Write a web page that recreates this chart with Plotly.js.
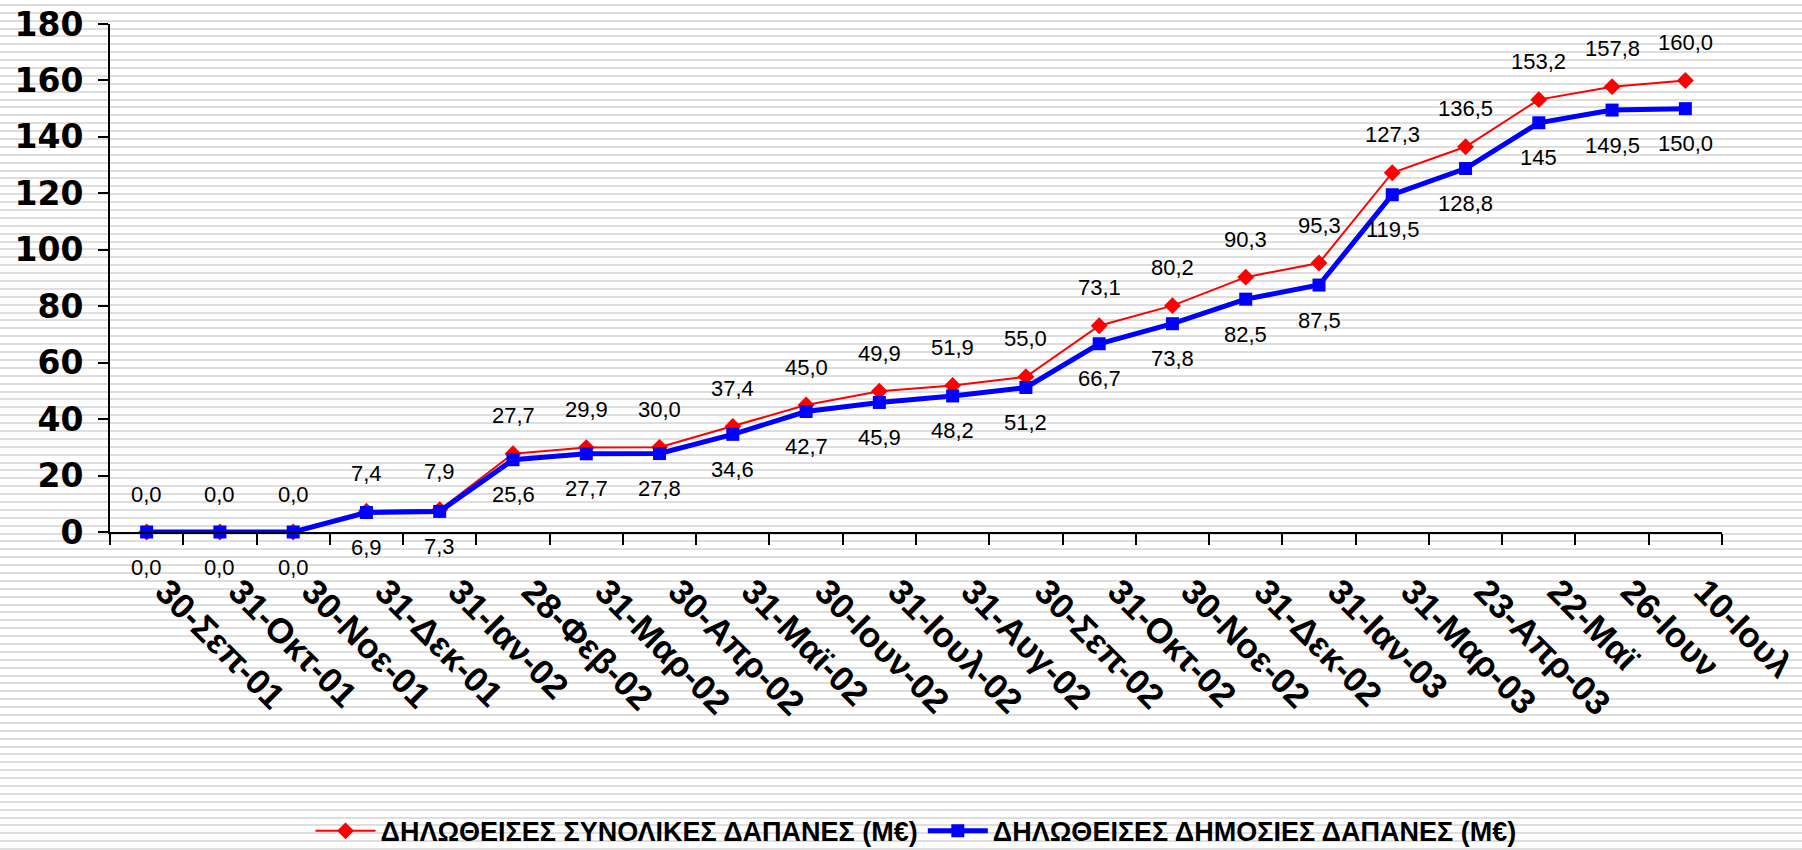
<!DOCTYPE html>
<html>
<head>
<meta charset="utf-8">
<script src="https://cdn.plot.ly/plotly-3.0.1.min.js"></script>
<style>
  html, body { margin: 0; padding: 0; }
  body {
    width: 1802px; height: 850px; overflow: hidden;
    background-color: #ffffff;
    background-image: repeating-linear-gradient(to bottom,
      #ffffff 0px, #ffffff 3.9px, #dedede 3.9px, #dedede 5.9px, #ffffff 5.9px, #ffffff 7.89px);
  }
  #chart { width: 1802px; height: 850px; }
</style>
</head>
<body>
<div id="chart"></div>
<script>
const categories = ["30-Σεπ-01","31-Οκτ-01","30-Νοε-01","31-Δεκ-01","31-Ιαν-02","28-Φεβ-02",
  "31-Μαρ-02","30-Απρ-02","31-Μαϊ-02","30-Ιουν-02","31-Ιουλ-02","31-Αυγ-02","30-Σεπ-02",
  "31-Οκτ-02","30-Νοε-02","31-Δεκ-02","31-Ιαν-03","31-Μαρ-03","23-Απρ-03","22-Μαϊ","26-Ιουν","10-Ιουλ"];

const totalSpend = [0.0,0.0,0.0,7.4,7.9,27.7,29.9,30.0,37.4,45.0,49.9,51.9,55.0,73.1,80.2,90.3,95.3,127.3,136.5,153.2,157.8,160.0];
const publicSpend = [0.0,0.0,0.0,6.9,7.3,25.6,27.7,27.8,34.6,42.7,45.9,48.2,51.2,66.7,73.8,82.5,87.5,119.5,128.8,145,149.5,150.0];

const totalLabels = ["0,0","0,0","0,0","7,4","7,9","27,7","29,9","30,0","37,4","45,0","49,9","51,9","55,0","73,1","80,2","90,3","95,3","127,3","136,5","153,2","157,8","160,0"];
const publicLabels = ["0,0","0,0","0,0","6,9","7,3","25,6","27,7","27,8","34,6","42,7","45,9","48,2","51,2","66,7","73,8","82,5","87,5","119,5","128,8","145","149,5","150,0"];

const yTicks = [0,20,40,60,80,100,120,140,160,180];

const nameTotal = "ΔΗΛΩΘΕΙΣΕΣ ΣΥΝΟΛΙΚΕΣ ΔΑΠΑΝΕΣ (Μ€)";
const namePublic = "ΔΗΛΩΘΕΙΣΕΣ ΔΗΜΟΣΙΕΣ ΔΑΠΑΝΕΣ (Μ€)";

const traces = [
  {
    type: "scatter", mode: "lines+markers", name: "<b>" + nameTotal + "</b>",
    x: categories, y: totalSpend, cliponaxis: false,
    line: {color: "#ff0000", width: 2},
    marker: {symbol: "diamond", size: 13, color: "#ff0000"}
  },
  {
    type: "scatter", mode: "lines+markers", name: "<b>" + namePublic + "</b>",
    x: categories, y: publicSpend, cliponaxis: false,
    line: {color: "#0000ff", width: 5},
    marker: {symbol: "square", size: 13, color: "#0000ff"}
  }
];

const labelFont = {family: "Liberation Sans, Arial, sans-serif", size: 22, color: "#000"};
const annotations = [];
categories.forEach((c, i) => {
  annotations.push({x: c, y: totalSpend[i], text: totalLabels[i], showarrow: false,
    yshift: 38, font: labelFont, xanchor: "center", yanchor: "middle"});
  annotations.push({x: c, y: publicSpend[i], text: publicLabels[i], showarrow: false,
    yshift: -35, font: labelFont, xanchor: "center", yanchor: "middle"});
});

const layout = {
  width: 1802, height: 850,
  paper_bgcolor: "rgba(0,0,0,0)", plot_bgcolor: "rgba(0,0,0,0)",
  margin: {l: 110, r: 80, t: 24, b: 318, autoexpand: false},
  showlegend: true,
  legend: {orientation: "h", x: 0.5, xanchor: "center", yref: "container", y: 0.022, yanchor: "middle",
    font: {family: "Liberation Sans, Arial, sans-serif", size: 27, weight: "bold", color: "#000"},
    bgcolor: "rgba(0,0,0,0)", itemwidth: 60},
  xaxis: {
    type: "category", range: [-0.5, 21.5], automargin: false,
    showline: true, linecolor: "#000", linewidth: 2,
    ticks: "outside", tickson: "boundaries", ticklen: 11, tickwidth: 2, tickcolor: "#000",
    showgrid: false, zeroline: false, tickangle: 45, ticklabelstandoff: 23, ticklabelshift: 19,
    tickfont: {family: "Liberation Sans, Arial, sans-serif", size: 35, weight: "bold", color: "#000"}
  },
  yaxis: {
    range: [0, 180], tickvals: yTicks, ticktext: yTicks.map(String), automargin: false,
    showline: true, linecolor: "#000", linewidth: 2,
    ticks: "outside", ticklen: 10, tickwidth: 2, tickcolor: "#000",
    showgrid: false, zeroline: false, ticklabelstandoff: 8,
    tickfont: {family: "DejaVu Sans, Verdana, sans-serif", size: 33, weight: "bold", color: "#000"}
  },
  annotations: annotations
};

Plotly.newPlot("chart", traces, layout, {displayModeBar: false, staticPlot: true});
</script>
</body>
</html>
